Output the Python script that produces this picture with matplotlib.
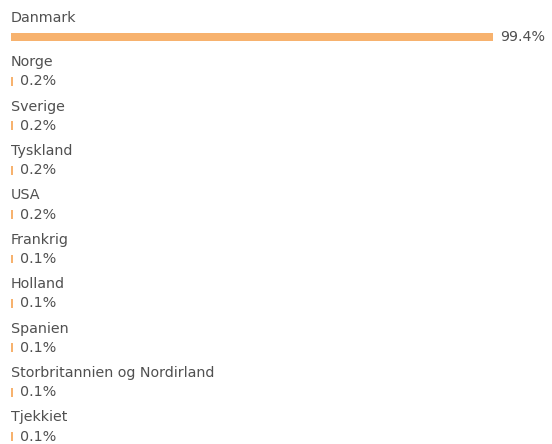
import matplotlib.pyplot as plt

countries = ['Danmark', 'Norge', 'Sverige', 'Tyskland', 'USA', 'Frankrig',
             'Holland', 'Spanien', 'Storbritannien og Nordirland', 'Tjekkiet']
shares = [99.4, 0.2, 0.2, 0.2, 0.2, 0.1, 0.1, 0.1, 0.1, 0.1]

bar_color = '#F7B26E'
text_color = '#505050'

plt.rcParams['font.family'] = ['DejaVu Sans']

fig = plt.figure(figsize=(5.52, 4.44), dpi=100)
ax = fig.add_axes([11 / 552, 0, 485 / 552, 1])
ax.set_xlim(0, 100)
ax.set_ylim(9.167, -0.833)
ax.axis('off')

# tiny shares still get a 2px sliver so they stay visible
px_per_unit = ax.get_window_extent().width / 100
min_w = 2 / px_per_unit
shown = [max(v, min_w) for v in shares]

rows = range(len(countries))
ax.barh(rows, shown, height=0.2, color=bar_color, linewidth=0)

for i, (name, val, w) in enumerate(zip(countries, shares, shown)):
    ax.text(0, i - 0.43, name, fontsize=10.3, color=text_color, va='center', ha='left')
    ax.annotate(f'{val}%', xy=(w, i), xytext=(7, 0), textcoords='offset pixels',
                fontsize=10.3, color=text_color, va='center', ha='left',
                annotation_clip=False)

fig.savefig('out.png', dpi=100)
